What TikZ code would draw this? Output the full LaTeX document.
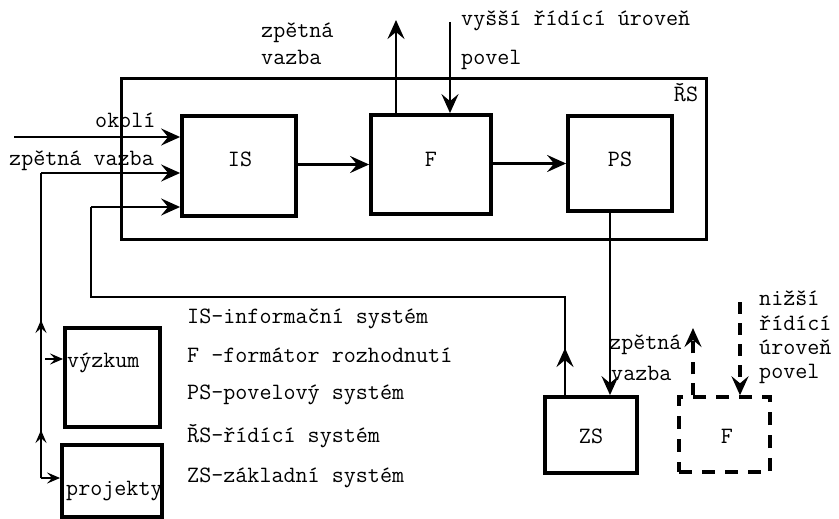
\documentclass[tikz,border=0pt]{standalone}
\usepackage{fontspec}
\usetikzlibrary{arrows.meta}
\begin{document}
\begin{tikzpicture}[x=1pt,y=-1pt,
  font=\ttfamily\addfontfeatures{FakeBold=1.3}\fontsize{23.4}{27}\selectfont,
  box/.style={draw, line width=3.8pt, inner sep=0pt},
  frame/.style={draw, line width=3pt, inner sep=0pt},
  dbox/.style={draw, line width=3.4pt, inner sep=0pt, dash pattern=on 13pt off 10pt},
  wire/.style={line width=2.8pt},
  dwire/.style={line width=3.2pt, dash pattern=on 12pt off 9pt},
  arrowtip/.style={-{Stealth[length=19pt,width=17pt,inset=7pt]}},
  smalltip/.style={-{Stealth[length=13pt,width=11pt,inset=5pt]}},
  txt/.style={anchor=base west, inner sep=0pt},
  ctxt/.style={anchor=base, inner sep=0pt}]
\useasboundingbox (0,0) rectangle (839,519);

% control system frame and its blocks
\node[frame, minimum width=585pt, minimum height=160pt] (RS) at (413.5,159) {};
\node[box, minimum width=114pt, minimum height=100pt] (IS) at (239,166) {};
\node[box, minimum width=120pt, minimum height=99pt] (F) at (431,164.5) {};
\node[box, minimum width=104pt, minimum height=95pt] (PS) at (620,163.5) {};
\node[box, minimum width=92pt, minimum height=76pt] (ZS) at (591,435) {};
\node[dbox, minimum width=91pt, minimum height=75pt] (F2) at (724.5,434.5) {};
\node[box, minimum width=95pt, minimum height=99pt] (VY) at (112.5,377.5) {};
\node[box, minimum width=100pt, minimum height=72pt] (PR) at (112,481) {};

% block captions
\node[ctxt] (tRS) at (686,102) {ŘS};
\node[ctxt] (tIS) at (240,166) {IS};
\node[ctxt] (tF) at (431,166) {F};
\node[ctxt] (tPS) at (620,166) {PS};
\node[ctxt] (tZS) at (591,443) {ZS};
\node[ctxt] (tF2) at (727,443) {F};
\node[txt] (tVY) at (67,367) {výzkum};
\node[txt] (tPR) at (66,495) {projekty};

% legend
\node[txt] (l1) at (187,323) {IS-informační systém};
\node[txt] (l2) at (187,362) {F -formátor rozhodnutí};
\node[txt] (l3) at (187,399) {PS-povelový systém};
\node[txt] (l4) at (187,442) {ŘS-řídící systém};
\node[txt] (l5) at (187,482) {ZS-základní systém};

% signal labels
\node[txt] (okoli) at (95,128) {okolí};
\node[txt] (zvL) at (9,165) {zpětná vazba};
\node[txt] (zvT1) at (261,38) {zpětná};
\node[txt] (zvT2) at (261,65) {vazba};
\node[txt] (vys) at (461,26) {vyšší řídící úroveň};
\node[txt] (pov) at (461,65) {povel};
\node[txt] (zvZ1) at (609,349) {zpětná};
\node[txt] (zvZ2) at (611,380) {vazba};
\node[txt] (niz1) at (759,305) {nižší};
\node[txt] (niz2) at (759,330) {řídící};
\node[txt] (niz3) at (759,354) {úroveň};
\node[txt] (niz4) at (759,378) {povel};

% main chain
\draw[wire,arrowtip] (IS.east |- F.west) -- (F.west);
\draw[wire,arrowtip] (F.east |- PS.west) -- (PS.west);
\coordinate (pz) at (610,300);
\draw[wire,arrowtip] (pz |- PS.south) -- (pz |- ZS.north);

% inputs of IS
\coordinate (ok) at (14,137);
\draw[wire,arrowtip] (ok) -- (ok -| IS.west);

\coordinate (fbTop) at (41,173);
\coordinate (fbBot) at (41,478);
\coordinate (fbUp1) at (41,430);
\coordinate (fbUp2) at (41,320);
\draw[wire,arrowtip] (fbTop) -- (fbTop -| IS.west);
\draw[wire] (fbBot) -- (fbTop);
\draw[wire,smalltip] (fbBot) -- (fbUp1);
\draw[wire,smalltip] (fbUp1) -- (fbUp2);
\draw[wire,smalltip] (fbBot) -- (fbBot -| PR.west);
\coordinate (vyIn) at (45,359);
\draw[line width=2.2pt,smalltip] (vyIn) -- (vyIn -| VY.west);

% feedback from ZS
\coordinate (zA) at (565,297);
\coordinate (zB) at (91,297);
\coordinate (zC) at (91,207);
\coordinate (zM) at (565,348);
\draw[wire] (ZS.north -| zA) -- (zA) -- (zB) -- (zC);
\draw[wire,arrowtip] (zC) -- (zC -| IS.west);
\draw[wire,arrowtip] (ZS.north -| zA) -- (zM);

% links to the higher level
\coordinate (fUp) at (396,20);
\coordinate (fDn) at (450,22);
\draw[wire,arrowtip] (fUp |- F.north) -- (fUp);
\draw[wire,arrowtip] (fDn) -- (fDn |- F.north);

% links of the lower level
\coordinate (dUp) at (693,328);
\coordinate (dDn) at (740,302);
\draw[dwire,arrowtip] (dUp |- F2.north) -- (dUp);
\draw[dwire,arrowtip] (dDn) -- (dDn |- F2.north);
\end{tikzpicture}
\end{document}
